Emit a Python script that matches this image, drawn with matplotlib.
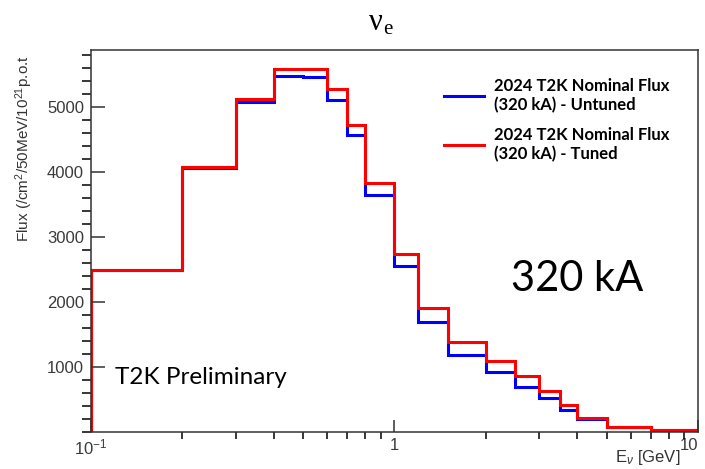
import numpy as np
import matplotlib
matplotlib.use("Agg")
import matplotlib.pyplot as plt

# bin edges in GeV
edges = [0.1, 0.2, 0.3, 0.4, 0.5, 0.6, 0.7, 0.8, 1.0, 1.2, 1.5,
         2.0, 2.5, 3.0, 3.5, 4.0, 5.0, 7.0, 10.0]

untuned = [2490, 4060, 5075, 5485, 5462, 5105, 4570, 3646, 2554, 1692,
           1179, 918, 692, 518, 344, 200, 70, 30]
tuned = [2490, 4077, 5125, 5595, 5595, 5272, 4723, 3836, 2743, 1903,
         1385, 1097, 862, 631, 410, 221, 72, 30]

xticks = [0.1, 1, 10]
xticklabels = [r'10$^{-1}$', '1', '10']
yticks = [1000, 2000, 3000, 4000, 5000]

plt.rcParams['font.family'] = ['Liberation Sans', 'DejaVu Sans']
plt.rcParams['mathtext.fontset'] = 'custom'
plt.rcParams['mathtext.rm'] = 'Liberation Sans'
plt.rcParams['mathtext.it'] = 'Liberation Sans:italic'

fig = plt.figure(figsize=(7.05, 4.69), dpi=100)
ax = fig.add_axes([0.129, 0.0789, 0.861, 0.8145])

ax.stairs(untuned, edges, baseline=0, color='#0000ff', lw=2.2)
ax.stairs(tuned, edges, baseline=0, color='#ff0000', lw=2.2)

ax.set_xscale('log')
ax.set_xlim(0.1, 10)
ax.set_ylim(0, 5880)
ax.set_xticks(xticks)
ax.set_xticklabels(xticklabels)
ax.set_yticks(yticks)
ax.yaxis.set_minor_locator(matplotlib.ticker.MultipleLocator(200))

for s in ax.spines.values():
    s.set_color('#333333')
    s.set_linewidth(1.1)
ax.tick_params(axis='both', direction='in', colors='#333333', labelsize=12,
               labelcolor='#3a3a3a')
ax.tick_params(axis='y', which='major', length=10, width=1.1, pad=5)
ax.tick_params(axis='y', which='minor', length=6.5, width=1.1)
ax.tick_params(axis='x', which='major', length=8.5, width=1.1, pad=4)
ax.tick_params(axis='x', which='minor', length=5, width=1.1)
# keep the "10" label inside the figure
ax.get_xticklabels()[2].set_horizontalalignment('right')

# title: upright nu with subscript e
fig.text(0.533, 0.952, 'ν', ha='center', va='center', fontsize=22,
         family='Liberation Serif')
fig.text(0.550, 0.938, 'e', ha='center', va='center', fontsize=15,
         family='Liberation Serif')

fig.text(0.035, 0.484, r'Flux (/cm$^{2}$/50MeV/10$^{21}$p.o.t', rotation=90,
         ha='center', va='bottom', fontsize=11, color='#333333',
         family=['Liberation Sans Narrow', 'Liberation Sans'])
fig.text(0.965, 0.004, r'E$_{\nu}$ [GeV]', ha='right', va='bottom',
         fontsize=12, color='#333333')

ax.text(0.040, 0.126, 'T2K Preliminary', transform=ax.transAxes,
        fontsize=17.5, family='Lato', va='baseline')
ax.text(0.692, 0.369, '320 kA', transform=ax.transAxes,
        fontsize=30, family='Lato', va='baseline')

h1, = ax.plot([], [], color='#0000ff', lw=2.2)
h2, = ax.plot([], [], color='#ff0000', lw=2.2)
leg = ax.legend([h1, h2],
                ['2024 T2K Nominal Flux\n(320 kA) - Untuned',
                 '2024 T2K Nominal Flux\n(320 kA) - Tuned'],
                loc='upper left', bbox_to_anchor=(0.582, 0.927),
                frameon=False, borderpad=0, borderaxespad=0,
                handlelength=2.4, handletextpad=0.6, labelspacing=0.78,
                prop={'family': 'Lato', 'weight': 'bold', 'size': 12})
for t in leg.get_texts():
    t.set_linespacing(1.25)

fig.savefig('out.png', dpi=100)
